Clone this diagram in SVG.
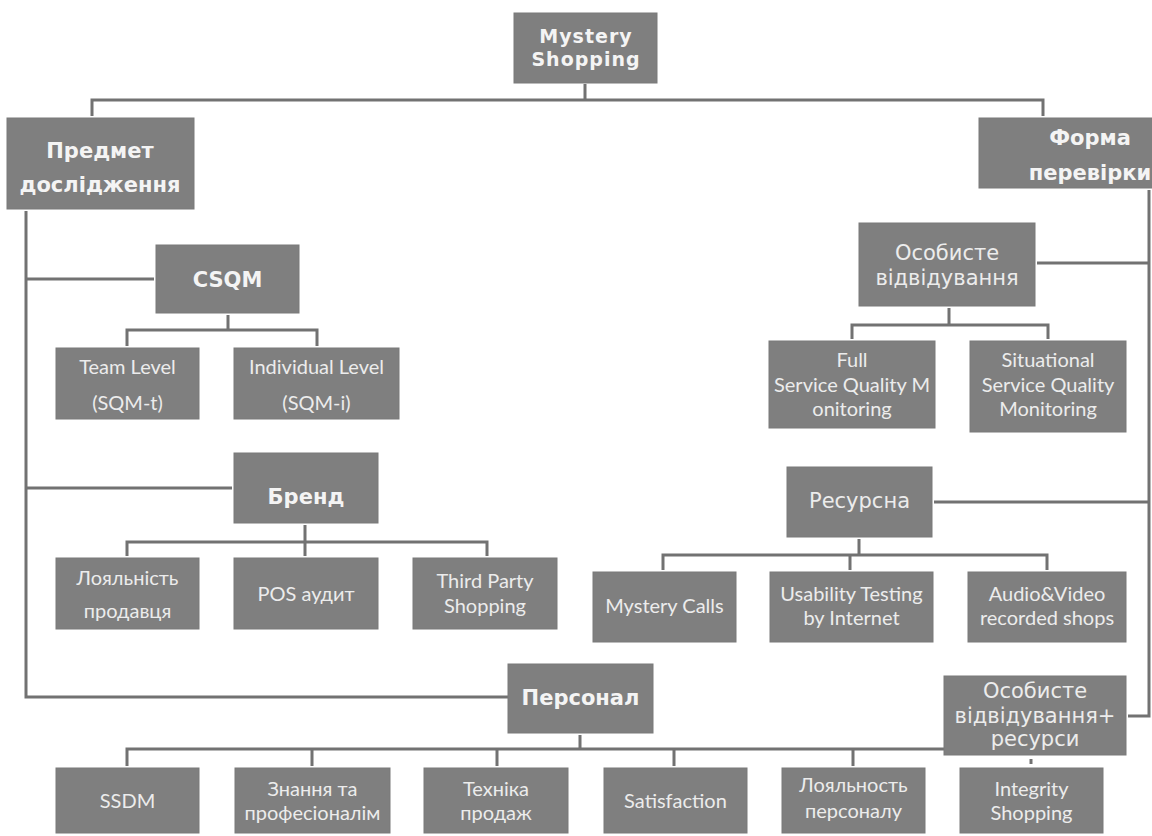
<svg xmlns="http://www.w3.org/2000/svg" width="1152" height="836" viewBox="0 0 1152 836">
<style>
.box{fill:#7f7f7f;stroke:#7a7a7a;stroke-width:1}
.b{font-family:"DejaVu Sans",Verdana,sans-serif;font-weight:bold;font-size:21px;fill:#f4f4f4;text-anchor:middle}
.ms{font-size:19px;letter-spacing:1px}
.m{font-family:"DejaVu Sans",Verdana,sans-serif;font-size:21px;fill:#ececec;text-anchor:middle}
.r{font-family:Lato,"Open Sans",sans-serif;font-size:20px;fill:#ececec;text-anchor:middle}
.c{fill:none;stroke:#727272;stroke-width:3}
</style>
<rect width="1152" height="836" fill="#ffffff"/>
<g id="connectors">
<path class="c" d="M585,84 V100 M92,116 V100 H1043 V116"/>
<path class="c" d="M26,211 V697 H508 M26,279 H154 M26,488 H232"/>
<path class="c" d="M228,315 V330 M127,346 V330 H317 V346"/>
<path class="c" d="M305,525 V556 M127,556 V542 H487 V556"/>
<path class="c" d="M580,735 V749 M127,766 V749 H944 M312,749 V766 M497,749 V766 M674,749 V766 M853,749 V766"/>
<path class="c" d="M1149,190 V716 H1128 M1149,263 H1037 M1149,502 H934"/>
<path class="c" d="M949,308 V325 M852,339 V325 H1048 V339"/>
<path class="c" d="M859,539 V555 M663,570 V555 H1047 V570 M850,555 V570"/>
<path class="c" d="M1031,759 V764"/>
</g>
<g id="n-ms"><rect class="box" x="514" y="13" width="143" height="70"/><text class="b ms" x="586" y="43">Mystery</text><text class="b ms" x="586" y="66">Shopping</text></g>
<g id="n-predmet"><rect class="box" x="7" y="118" width="187" height="91"/><text class="b" x="100" y="158">Предмет</text><text class="b" x="100" y="192">дослідження</text></g>
<g id="n-forma"><rect class="box" x="979" y="118" width="222" height="70"/><text class="b" x="1090" y="145">Форма</text><text class="b" x="1090" y="180">перевірки</text></g>
<g id="n-csqm"><rect class="box" x="156" y="245" width="143" height="68"/><text class="b" x="227.5" y="287">CSQM</text></g>
<g id="n-team"><rect class="box" x="56" y="348" width="143" height="71"/><text class="r" x="127.5" y="374">Team Level</text><text class="r" x="127.5" y="410">(SQM-t)</text></g>
<g id="n-indiv"><rect class="box" x="234" y="348" width="165" height="71"/><text class="r" x="316.5" y="374">Individual Level</text><text class="r" x="316.5" y="410">(SQM-i)</text></g>
<g id="n-osob"><rect class="box" x="859" y="223" width="176" height="83"/><text class="m" x="947" y="260">Особисте</text><text class="m" x="947" y="285">відвідування</text></g>
<g id="n-full"><rect class="box" x="769" y="341" width="166" height="87"/><text class="r" x="852" y="367">Full</text><text class="r" x="852" y="392">Service Quality M</text><text class="r" x="852" y="416">onitoring</text></g>
<g id="n-situ"><rect class="box" x="970" y="341" width="156" height="91"/><text class="r" x="1048" y="367">Situational</text><text class="r" x="1048" y="392">Service Quality</text><text class="r" x="1048" y="416">Monitoring</text></g>
<g id="n-brend"><rect class="box" x="234" y="453" width="144" height="70"/><text class="b" x="306" y="504">Бренд</text></g>
<g id="n-loyal"><rect class="box" x="56" y="558" width="143" height="71"/><text class="r" x="127.5" y="585">Лояльність</text><text class="r" x="127.5" y="618">продавця</text></g>
<g id="n-pos"><rect class="box" x="234" y="558" width="144" height="71"/><text class="r" x="306" y="601">POS аудит</text></g>
<g id="n-third"><rect class="box" x="413" y="558" width="144" height="71"/><text class="r" x="485" y="588">Third Party</text><text class="r" x="485" y="613">Shopping</text></g>
<g id="n-resursna"><rect class="box" x="787" y="467" width="145" height="70"/><text class="m" x="859.5" y="508">Ресурсна</text></g>
<g id="n-mcalls"><rect class="box" x="593" y="572" width="143" height="70"/><text class="r" x="664.5" y="613">Mystery Calls</text></g>
<g id="n-usab"><rect class="box" x="770" y="572" width="163" height="70"/><text class="r" x="851.5" y="601">Usability Testing</text><text class="r" x="851.5" y="625">by Internet</text></g>
<g id="n-audio"><rect class="box" x="968" y="572" width="158" height="70"/><text class="r" x="1047" y="601">Audio&amp;Video</text><text class="r" x="1047" y="625">recorded shops</text></g>
<g id="n-personal"><rect class="box" x="508" y="664" width="145" height="69"/><text class="b" x="580.5" y="705">Персонал</text></g>
<g id="n-osobres"><rect class="box" x="944" y="676" width="182" height="79"/><text class="m" x="1035" y="698">Особисте</text><text class="m" x="1035" y="723">відвідування+</text><text class="m" x="1035" y="746">ресурси</text></g>
<g id="n-ssdm"><rect class="box" x="56" y="768" width="143" height="65"/><text class="r" x="127.5" y="808">SSDM</text></g>
<g id="n-znannya"><rect class="box" x="235" y="768" width="155" height="65"/><text class="r" x="312.5" y="796">Знання та</text><text class="r" x="312.5" y="820">професіоналім</text></g>
<g id="n-tekhnika"><rect class="box" x="424" y="768" width="144" height="65"/><text class="r" x="496" y="796">Техніка</text><text class="r" x="496" y="820">продаж</text></g>
<g id="n-satisf"><rect class="box" x="604" y="768" width="143" height="65"/><text class="r" x="675.5" y="808">Satisfaction</text></g>
<g id="n-loyalp"><rect class="box" x="782" y="768" width="143" height="65"/><text class="r" x="853.5" y="792">Лояльность</text><text class="r" x="853.5" y="818">персоналу</text></g>
<g id="n-integ"><rect class="box" x="960" y="768" width="143" height="65"/><text class="r" x="1031.5" y="796">Integrity</text><text class="r" x="1031.5" y="820">Shopping</text></g>
</svg>
